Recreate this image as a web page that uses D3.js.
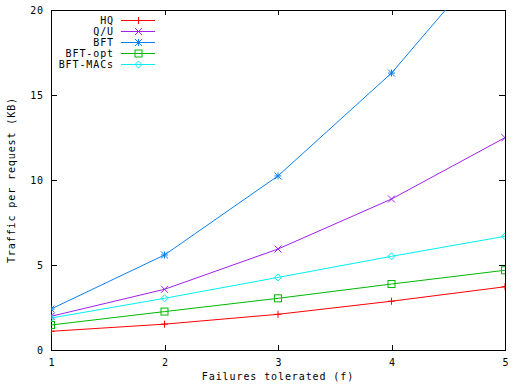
<!DOCTYPE html>
<html><head><meta charset="utf-8">
<script src="https://cdn.jsdelivr.net/npm/d3@7"></script>
<style>body{margin:0;background:#fff}svg{display:block}text{font-family:"DejaVu Sans Mono",monospace;font-size:10px;letter-spacing:0.9px;fill:#000}</style>
</head><body><svg id="c" width="512" height="384"></svg>
<script>
const fValues = [1, 2, 3, 4, 5];
const hq = [1.1, 1.52, 2.1, 2.87, 3.72];
const qu = [1.98, 3.57, 5.94, 8.88, 12.49];
const bft = [2.41, 5.59, 10.24, 16.29, 24.1];
const bftOpt = [1.47, 2.26, 3.04, 3.88, 4.69];
const bftMacs = [1.88, 3.04, 4.27, 5.51, 6.69];
const xTicks = [1, 2, 3, 4, 5];
const yTicks = [0, 5, 10, 15, 20];
const seriesNames = ["HQ", "Q/U", "BFT", "BFT-opt", "BFT-MACs"];
const seriesColors = ["#ff0000", "#a020f0", "#0a80f0", "#00b800", "#00f0f0"];
const seriesMarkers = ["plus", "cross", "star", "square", "diamond"];
const seriesData = [hq, qu, bft, bftOpt, bftMacs];

const svg = d3.select("#c");
const L = 51, R = 505, T = 10, B = 350;
const x = d3.scaleLinear().domain([1, 5]).range([L, R]);
const y = d3.scaleLinear().domain([0, 20]).range([B, T]);

const defs = svg.append("defs");
defs.append("clipPath").attr("id", "clip").append("rect").attr("x", L).attr("y", T).attr("width", R - L).attr("height", B - T);

function marker(g, type, cx, cy, color) {
  const s = 3.5;
  if (type === "plus" || type === "star") {
    g.append("path").attr("d", `M${cx - s},${cy}H${cx + s}M${cx},${cy - s}V${cy + s}`).attr("stroke", color).attr("fill", "none");
  }
  if (type === "cross" || type === "star") {
    g.append("path").attr("d", `M${cx - s},${cy - s}L${cx + s},${cy + s}M${cx - s},${cy + s}L${cx + s},${cy - s}`).attr("stroke", color).attr("fill", "none");
  }
  if (type === "square") {
    g.append("rect").attr("x", cx - 3.5).attr("y", cy - 3.5).attr("width", 7).attr("height", 7).attr("stroke", color).attr("fill", "none");
  }
  if (type === "diamond") {
    g.append("path").attr("d", `M${cx},${cy - 3.5}L${cx + 3.5},${cy}L${cx},${cy + 3.5}L${cx - 3.5},${cy}Z`).attr("stroke", color).attr("fill", "none");
  }
}

const axG = svg.append("g");
axG.append("rect").attr("x", L + 0.5).attr("y", T + 0.5).attr("width", R - L).attr("height", B - T).attr("fill", "none").attr("stroke", "#000");

xTicks.forEach(t => {
  const px = Math.round(x(t)) + 0.5;
  axG.append("line").attr("x1", px).attr("x2", px).attr("y1", B).attr("y2", B - 5).attr("stroke", "#000");
  axG.append("line").attr("x1", px).attr("x2", px).attr("y1", T).attr("y2", T + 5).attr("stroke", "#000");
  axG.append("text").attr("x", x(t) + 1).attr("y", 366).attr("text-anchor", "middle").text(t);
});
yTicks.forEach(t => {
  const py = Math.round(y(t)) + 0.5;
  axG.append("line").attr("x1", L).attr("x2", L + 6).attr("y1", py).attr("y2", py).attr("stroke", "#000");
  axG.append("line").attr("x1", R).attr("x2", R - 6).attr("y1", py).attr("y2", py).attr("stroke", "#000");
  axG.append("text").attr("x", 44).attr("y", y(t) + 3.5).attr("text-anchor", "end").text(t);
});

svg.append("text").attr("x", 278).attr("y", 380).attr("text-anchor", "middle").text("Failures tolerated (f)");
svg.append("text").attr("transform", "translate(15,180) rotate(-90)").attr("text-anchor", "middle").text("Traffic per request (KB)");

const plotG = svg.append("g").attr("clip-path", "url(#clip)");
const line = d3.line().x((d, i) => x(fValues[i])).y(d => y(d));
seriesData.forEach((vals, k) => {
  plotG.append("path").datum(vals).attr("d", line).attr("fill", "none").attr("stroke", seriesColors[k]).attr("stroke-width", 1);
  vals.forEach((v, i) => {
    if (v <= 20) marker(plotG, seriesMarkers[k], x(fValues[i]), y(v), seriesColors[k]);
  });
});

seriesNames.forEach((n, k) => {
  const ly = 20 + k * 11;
  svg.append("text").attr("x", 114).attr("y", ly + 3.5).attr("text-anchor", "end").text(n);
  svg.append("line").attr("x1", 121).attr("x2", 155).attr("y1", ly + 0.5).attr("y2", ly + 0.5).attr("stroke", seriesColors[k]);
  marker(svg, seriesMarkers[k], 138.5, ly + 0.5, seriesColors[k]);
});
</script></body></html>
